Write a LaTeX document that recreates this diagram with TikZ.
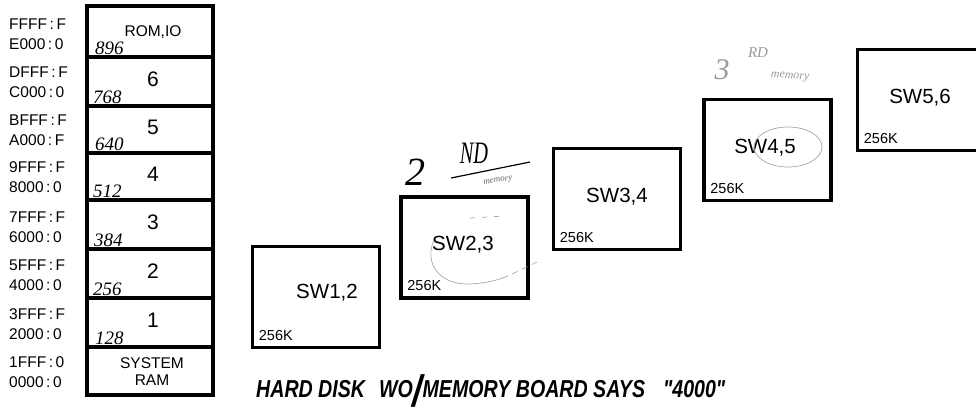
\documentclass[tikz,border=0pt]{standalone}
\usepackage{fontspec}
\setmainfont{Liberation Sans}
\newfontfamily\hand{Liberation Serif}
\newfontfamily\marker[FakeStretch=0.8]{Liberation Sans}
\usetikzlibrary{calc}
\begin{document}
\begin{tikzpicture}[x=1pt,y=-1pt,
 mem/.style={draw,line width=3.2pt,minimum width=126pt,inner sep=0pt},
 sw/.style={draw,line width=3.6pt,minimum width=127pt,minimum height=101pt,inner sep=0pt},
 swtext/.style={font=\fontsize{20.5}{20.5}\selectfont,inner sep=0pt},
 kb/.style={font=\fontsize{14.5}{14.5}\selectfont,inner sep=0pt,anchor=base west},
 addr/.style={font=\fontsize{15.5}{19.5}\selectfont,align=left,anchor=west,inner sep=0pt},
 num/.style={font=\fontsize{21}{21}\selectfont,inner sep=0pt},
 memtxt/.style={font=\fontsize{15.5}{17}\selectfont,align=center,inner sep=0pt},
 hwnum/.style={font=\hand\itshape\fontsize{19}{19}\selectfont,anchor=base west,inner sep=0pt},
 note/.style={font=\hand\itshape,inner sep=0pt},
 pencil/.style={draw=black!35,line width=0.7pt},
 ]
\useasboundingbox (0,0) rectangle (976,416);
% memory map column
\node[mem,minimum height=51pt] (m8) at (150,31.5) {};
\node[mem,minimum height=49pt] (m7) at (150,81.5) {};
\node[mem,minimum height=47pt] (m6) at (150,129.5) {};
\node[mem,minimum height=47pt] (m5) at (150,176.5) {};
\node[mem,minimum height=49pt] (m4) at (150,224.5) {};
\node[mem,minimum height=49pt] (m3) at (150,273.5) {};
\node[mem,minimum height=49pt] (m2) at (150,322.5) {};
\node[mem,minimum height=48pt] (m1) at (150,371) {};
% labels in the column
\node[memtxt] (t8) at (153,32) {ROM,IO};
\node[num] (t7) at (153,79) {6};
\node[num] (t6) at (153,127) {5};
\node[num] (t5) at (153,174.5) {4};
\node[num] (t4) at (153,222.5) {3};
\node[num] (t3) at (153,271.5) {2};
\node[num] (t2) at (153,320.5) {1};
\node[memtxt] (t1) at (152,372) {SYSTEM\\RAM};
% handwritten KB values
\node[hwnum] (h8) at (95,54) {896};
\node[hwnum] (h7) at (93,103) {768};
\node[hwnum] (h6) at (95,150) {640};
\node[hwnum] (h5) at (93,197) {512};
\node[hwnum] (h4) at (94,246) {384};
\node[hwnum] (h3) at (93,295) {256};
\node[hwnum] (h2) at (95,344) {128};
% addresses
\node[addr] (a8) at (9,34) {FFFF\,:\,F\\E000\,:\,0};
\node[addr] (a7) at (9,82) {DFFF\,:\,F\\C000\,:\,0};
\node[addr] (a6) at (9,130) {BFFF\,:\,F\\A000\,:\,F};
\node[addr] (a5) at (9,177) {9FFF\,:\,F\\8000\,:\,0};
\node[addr] (a4) at (9,227) {7FFF\,:\,F\\6000\,:\,0};
\node[addr] (a3) at (9,275) {5FFF\,:\,F\\4000\,:\,0};
\node[addr] (a2) at (9,324) {3FFF\,:\,F\\2000\,:\,0};
\node[addr] (a1) at (9,372) {1FFF\,:\,0\\0000\,:\,0};
% switch boxes
\node[sw] (s1) at (316,297) {};
\node[sw] (s2) at (464.5,247.5) {};
\node[sw] (s3) at (617,199) {};
\node[sw] (s4) at (767.5,150) {};
\node[sw] (s5) at (921,100) {};
\node[swtext] (l1) at (327,293) {SW1,2};
\node[swtext] (l2) at (463,245) {SW2,3};
\node[swtext] (l3) at (617,197) {SW3,4};
\node[swtext] (l4) at (765,148) {SW4,5};
\node[swtext] (l5) at (920,98) {SW5,6};
\node[kb] (k1) at ($(s1.south west)+(8,-9)$) {256K};
\node[kb] (k2) at ($(s2.south west)+(8,-9)$) {256K};
\node[kb] (k3) at ($(s3.south west)+(8,-9)$) {256K};
\node[kb] (k4) at ($(s4.south west)+(8,-9)$) {256K};
\node[kb] (k5) at ($(s5.south west)+(8,-9)$) {256K};
% pencil marks
\draw[pencil] (434,240) .. controls (424,262) and (438,285) .. (470,284) .. controls (490,283) and (500,279) .. (508,276);
\draw[pencil,dash pattern=on 6pt off 5pt] (512,274) -- (537,262);
\draw[pencil,dash pattern=on 5pt off 7pt] (470,218) -- (505,216);
\draw[pencil] (788,147) ellipse (34 and 20);
% handwritten notes
\node[note,font=\hand\itshape\fontsize{40}{40}\selectfont] (n2) at (415,172) {2};
\node[note,font=\hand\itshape\fontsize{24}{24}\selectfont] (nd) at (474,153) {\scalebox{0.85}[1.3]{ND}};
\draw[line width=1.2pt] (451,178) -- (530,162);
\node[note,font=\hand\itshape\fontsize{9}{9}\selectfont,text=black!60,rotate=8] (nm2) at (498,181) {memory};
\node[note,font=\hand\itshape\fontsize{30}{30}\selectfont,text=black!40] (n3) at (722,70) {3};
\node[note,font=\hand\itshape\fontsize{15}{15}\selectfont,text=black!40] (rd) at (758,53) {RD};
\node[note,font=\hand\itshape\fontsize{12}{12}\selectfont,text=black!40,rotate=-4] (nm3) at (790,77) {memory};
% bottom note
\node[font=\marker\bfseries\itshape\fontsize{24.5}{24.5}\selectfont,anchor=base west,inner sep=0pt] (hd) at (256,397) {HARD DISK\hspace{14pt}WO\raisebox{-9pt}{\fontsize{44}{44}\selectfont/}MEMORY BOARD SAYS\hspace{18pt}"4000"};
\end{tikzpicture}
\end{document}
